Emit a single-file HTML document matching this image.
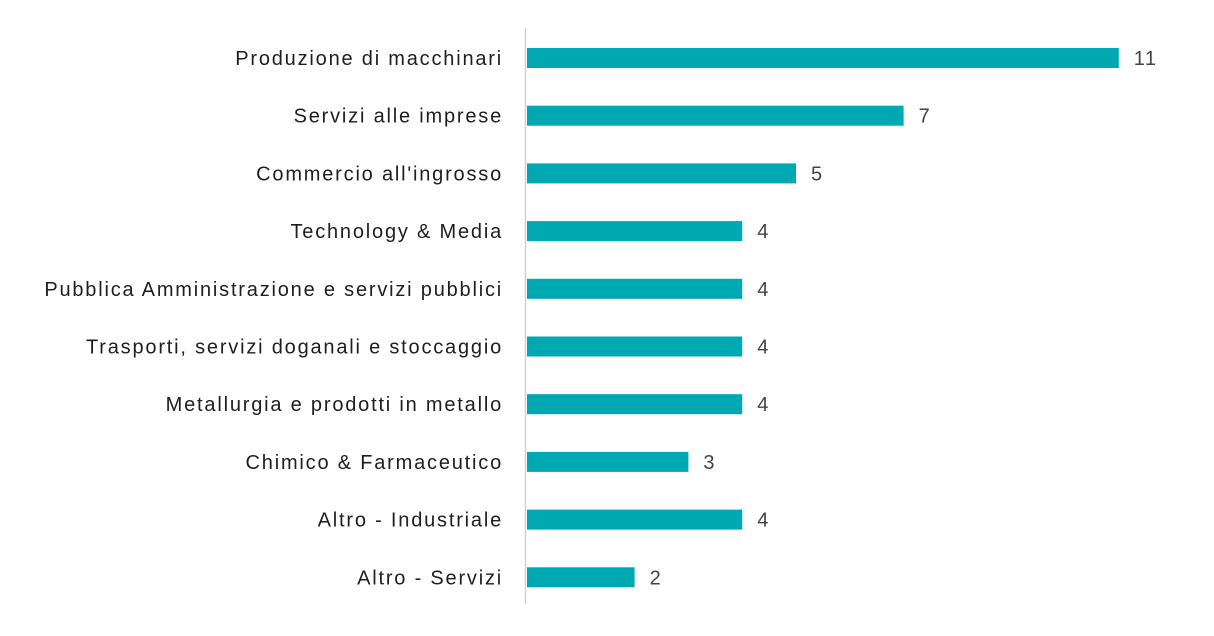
<!DOCTYPE html>
<html><head><meta charset="utf-8"><style>
html,body{margin:0;padding:0;background:#fff;}
svg{display:block;font-family:"Liberation Sans",sans-serif;}
</style></head><body>
<svg id="chart" width="1214" height="636">
<line x1="525.5" y1="28" x2="525.5" y2="604" stroke="#d0d0d0" stroke-width="1.5"/>
</svg>
<script>
const categories=["Produzione di macchinari","Servizi alle imprese","Commercio all'ingrosso","Technology & Media","Pubblica Amministrazione e servizi pubblici","Trasporti, servizi doganali e stoccaggio","Metallurgia e prodotti in metallo","Chimico & Farmaceutico","Altro - Industriale","Altro - Servizi"];
const values=[11,7,5,4,4,4,4,3,4,2];
const svg=document.getElementById('chart');
const NS='http://www.w3.org/2000/svg';
const x0=527, unit=53.8, yTop=58, step=57.7, bh=20;
const xs=v=>x0+v*unit;
const yc=i=>yTop+i*step;
categories.forEach((c,i)=>{
  const r=document.createElementNS(NS,'rect');
  r.setAttribute('x',x0);r.setAttribute('y',yc(i)-bh/2);
  r.setAttribute('width',xs(values[i])-x0);r.setAttribute('height',bh);
  r.setAttribute('fill','#00a8b1');
  
  
  svg.appendChild(r);
  const t=document.createElementNS(NS,'text');
  t.setAttribute('x',503);t.setAttribute('y',yc(i)+7);
  t.setAttribute('text-anchor','end');t.setAttribute('font-size','20');t.setAttribute('fill','#1e1e1e');
  t.setAttribute('letter-spacing','1.8');
  t.textContent=c;
  
  
  svg.appendChild(t);
  const v=document.createElementNS(NS,'text');
  v.setAttribute('x',xs(values[i])+15);v.setAttribute('y',yc(i)+7);
  v.setAttribute('font-size','20');v.setAttribute('fill','#444');
  v.setAttribute('letter-spacing','1.5');
  v.textContent=values[i];
  
  
  svg.appendChild(v);
});
</script>
</body></html>
